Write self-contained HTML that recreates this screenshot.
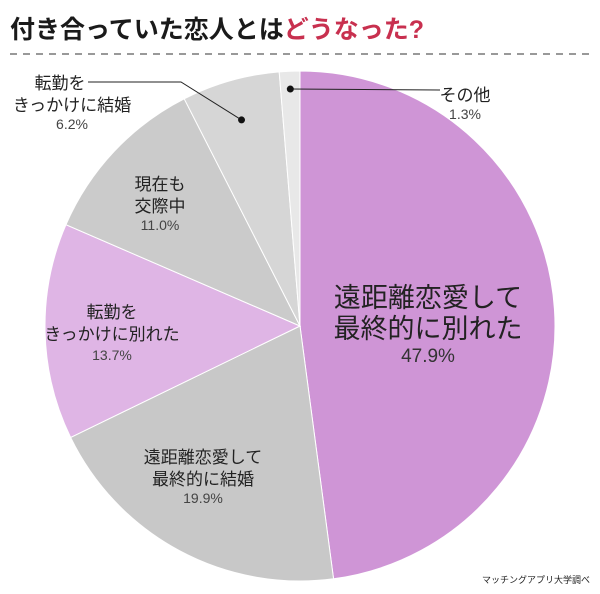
<!DOCTYPE html>
<html><head><meta charset="utf-8"><style>
body{margin:0;background:#fff;width:600px;height:594px;overflow:hidden;font-family:"Liberation Sans","Noto Sans CJK JP",sans-serif}
</style></head><body>
<svg width="600" height="594" id="svg" style="position:absolute;left:0;top:0">
<text x="10" y="38" font-size="25" font-weight="bold" fill="#1a1a1a">付き合っていた恋人とは<tspan fill="#c8304f">どうなった?</tspan></text>
<line x1="10" y1="54" x2="595" y2="54" stroke="#999" stroke-width="2" stroke-dasharray="7,6"/>
<g id="slices"></g>
<g id="labels" font-size="16" fill="#222" text-anchor="middle"></g>
<text x="590" y="583" font-size="9" text-anchor="end" fill="#222">マッチングアプリ大学調べ</text>
</svg>
<script>
const categories=["遠距離恋愛して最終的に別れた","遠距離恋愛して最終的に結婚","転勤をきっかけに別れた","現在も交際中","転勤をきっかけに結婚","その他"];
const values=[47.9,19.9,13.7,11.0,6.2,1.3];
const colors=["#cf95d6","#c8c8c8","#dfb5e5","#cbcbcb","#d6d6d6","#e8e8e8"];
const cx=300,cy=326,r=255,NS="http://www.w3.org/2000/svg";
const total=values.reduce((a,b)=>a+b,0);
const g=document.getElementById('slices');
let a0=0;
const mids=[];
values.forEach((v,i)=>{
 const a1=a0+v/total*2*Math.PI;
 const p=(a)=>[cx+r*Math.sin(a),cy-r*Math.cos(a)];
 const [x0,y0]=p(a0),[x1,y1]=p(a1);
 const path=document.createElementNS(NS,'path');
 path.setAttribute('d',`M${cx},${cy}L${x0},${y0}A${r},${r} 0 ${a1-a0>Math.PI?1:0} 1 ${x1},${y1}Z`);
 path.setAttribute('fill',colors[i]);
 path.setAttribute('stroke','#fff');
 path.setAttribute('stroke-width','1');
 
 
 g.appendChild(path);
 mids.push((a0+a1)/2);
 a0=a1;
});
const L=document.getElementById('labels');
function txt(x,y,s,size,fill,name){
 const t=document.createElementNS(NS,'text');
 t.setAttribute('x',x);t.setAttribute('y',y);
 t.setAttribute('font-size',size);t.setAttribute('fill',fill);
 t.textContent=s;
 
 
 L.appendChild(t);
}
const pt=(i,f)=>[cx+r*f*Math.sin(mids[i]),cy-r*f*Math.cos(mids[i])];
// slice 0 big label
txt(428,307,"遠距離恋愛して",27,"#222","label-1-line1");
txt(428,338,"最終的に別れた",27,"#222","label-1-line2");
txt(428,362,values[0].toFixed(1)+"%",19,"#333","label-1-value");
txt(203,463,"遠距離恋愛して",17,"#222","label-2-line1");
txt(203,485,"最終的に結婚",17,"#222","label-2-line2");
txt(203,503,values[1].toFixed(1)+"%",14,"#444","label-2-value");
txt(112,318,"転勤を",17,"#222","label-3-line1");
txt(112,340,"きっかけに別れた",17,"#222","label-3-line2");
txt(112,360,values[2].toFixed(1)+"%",14,"#444","label-3-value");
txt(160,190,"現在も",17,"#222","label-4-line1");
txt(160,212,"交際中",17,"#222","label-4-line2");
txt(160,230,values[3].toFixed(1)+"%",14,"#444","label-4-value");
txt(60,89,"転勤を",17,"#222","label-5-line1");
txt(72,111,"きっかけに結婚",17,"#222","label-5-line2");
txt(72,129,values[4].toFixed(1)+"%",14,"#444","label-5-value");
txt(465,101,"その他",17,"#222","label-6-line1");
txt(465,119,values[5].toFixed(1)+"%",14,"#444","label-6-value");
// leader lines
function lead(pts,name){
 const pl=document.createElementNS(NS,'polyline');
 pl.setAttribute('points',pts.map(p=>p.join(',')).join(' '));
 pl.setAttribute('fill','none');pl.setAttribute('stroke','#222');pl.setAttribute('stroke-width','1');
 
 L.appendChild(pl);
}
const d5=pt(4,0.84),d6=pt(5,0.93);
lead([[88,82],[181,82],d5],"leader-line-5");
lead([d6,[440,90]],"leader-line-6");
[d5,d6].forEach((d,k)=>{const c=document.createElementNS(NS,'circle');c.setAttribute('cx',d[0]);c.setAttribute('cy',d[1]);c.setAttribute('r',3.5);c.setAttribute('fill','#111');


L.appendChild(c);});
</script>
</body></html>
